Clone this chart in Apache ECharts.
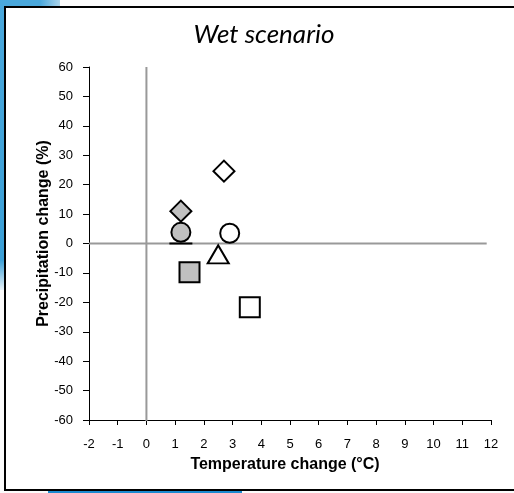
<!DOCTYPE html>
<html><head><meta charset="utf-8">
<script src="https://cdn.jsdelivr.net/npm/echarts@6/dist/echarts.min.js"></script>
<style>
html,body{margin:0;padding:0;width:514px;height:493px;overflow:hidden;background:#fbfbfb;position:relative;}
#bgTop{position:absolute;left:0;top:0;width:60px;height:7px;background:linear-gradient(to right,#4aa8dc 0,#4aa8dc 40px,#f4f4f4 75px);}
#bgLeft{position:absolute;left:0;top:0;width:5px;height:290px;background:linear-gradient(to bottom,#4aa8dc 0,#3b9fd6 260px,#e8f2f8 290px);}
#bgBot{position:absolute;left:48px;top:490px;width:194px;height:3px;background:#1a8ad0;}
#frame{position:absolute;left:4px;top:6px;width:520px;height:481px;border:2px solid #000;border-right:none;background:#fff;}
#c{position:absolute;left:0;top:0;width:514px;height:493px;}
</style></head>
<body>
<div id="bgTop"></div><div id="bgLeft"></div><div id="bgBot"></div>
<div id="frame"></div>
<div id="c"></div>
<script>
// Data (temperature change °C, precipitation change %)
const whiteDiamond = [[2.7, 24.6]];
const grayDiamond  = [[1.2, 11.0]];
const grayCircle   = [[1.2, 3.8]];
const dashMarker   = [[1.2, 0.0]];
const whiteCircle  = [[2.9, 3.5]];
const whiteTriangle= [[2.5, -3.7]];
const graySquare   = [[1.5, -9.8]];
const whiteSquare  = [[3.6, -21.7]];
const xTicks = [-2,-1,0,1,2,3,4,5,6,7,8,9,10,11,12];
const yTicks = [-60,-50,-40,-30,-20,-10,0,10,20,30,40,50,60];

const chart = echarts.init(document.getElementById('c'), null, {renderer:'canvas'});
const mk = (name, data, symbol, size, fill, bw) => ({
  name, type:'scatter', data, symbol, symbolSize:size, z:5,
  itemStyle:{color:fill, borderColor:'#000', borderWidth:bw, opacity:1}
});
chart.setOption({
  backgroundColor:'transparent',
  animation:false,
  title:{text:'Wet scenario', left:259, top:17, textAlign:'center',
    textStyle:{fontFamily:'Lato', fontStyle:'italic', fontWeight:'normal', fontSize:26, color:'#000'}},
  grid:{left:89, right:23, top:67, bottom:73},
  xAxis:{type:'value', min:xTicks[0], max:xTicks[xTicks.length-1], interval:1,
    name:'Temperature change (°C)', nameLocation:'middle', nameGap:37, nameMoveOverlap:false,
    nameTextStyle:{fontFamily:'Liberation Sans', fontWeight:'bold', fontSize:16, color:'#000', padding:[0,10,0,0]},
    axisLine:{onZero:false, lineStyle:{color:'#000', width:1}},
    axisTick:{length:5, lineStyle:{color:'#000'}},
    axisLabel:{fontFamily:'Liberation Sans', fontSize:13, color:'#000', margin:18},
    splitLine:{show:false}},
  yAxis:{type:'value', min:yTicks[0], max:yTicks[yTicks.length-1], interval:10,
    name:'Precipitation change (%)', nameLocation:'middle', nameGap:37, nameMoveOverlap:false,
    nameTextStyle:{fontFamily:'Liberation Sans', fontWeight:'bold', fontSize:16, color:'#000', padding:[0,0,0,20]},
    axisLine:{onZero:false, lineStyle:{color:'#000', width:1}},
    axisTick:{length:6, lineStyle:{color:'#000'}},
    axisLabel:{fontFamily:'Liberation Sans', fontSize:13, color:'#000', margin:16},
    splitLine:{show:false}},
  series:[
    {type:'line', data:[[0,yTicks[0]-0.8],[0,yTicks[yTicks.length-1]]], symbol:'none', z:2,
     lineStyle:{color:'#999', width:2}},
    {type:'line', data:[[xTicks[0],0],[11.85,0]], symbol:'none', z:2,
     lineStyle:{color:'#999', width:2}},
    mk('dash', dashMarker, 'rect', [23,2], '#000', 0),
    mk('wd', whiteDiamond, 'diamond', [21,21], '#fff', 2),
    mk('gd', grayDiamond, 'diamond', [21,21], '#c0c0c0', 2),
    mk('gc', grayCircle, 'circle', 19, '#c0c0c0', 2),
    mk('wc', whiteCircle, 'circle', 19, '#fff', 2),
    mk('wt', whiteTriangle, 'triangle', [21,18], '#fff', 2),
    mk('gs', graySquare, 'rect', 20, '#c0c0c0', 2),
    mk('ws', whiteSquare, 'rect', 20, '#fff', 2)
  ]
});
</script>
</body></html>
